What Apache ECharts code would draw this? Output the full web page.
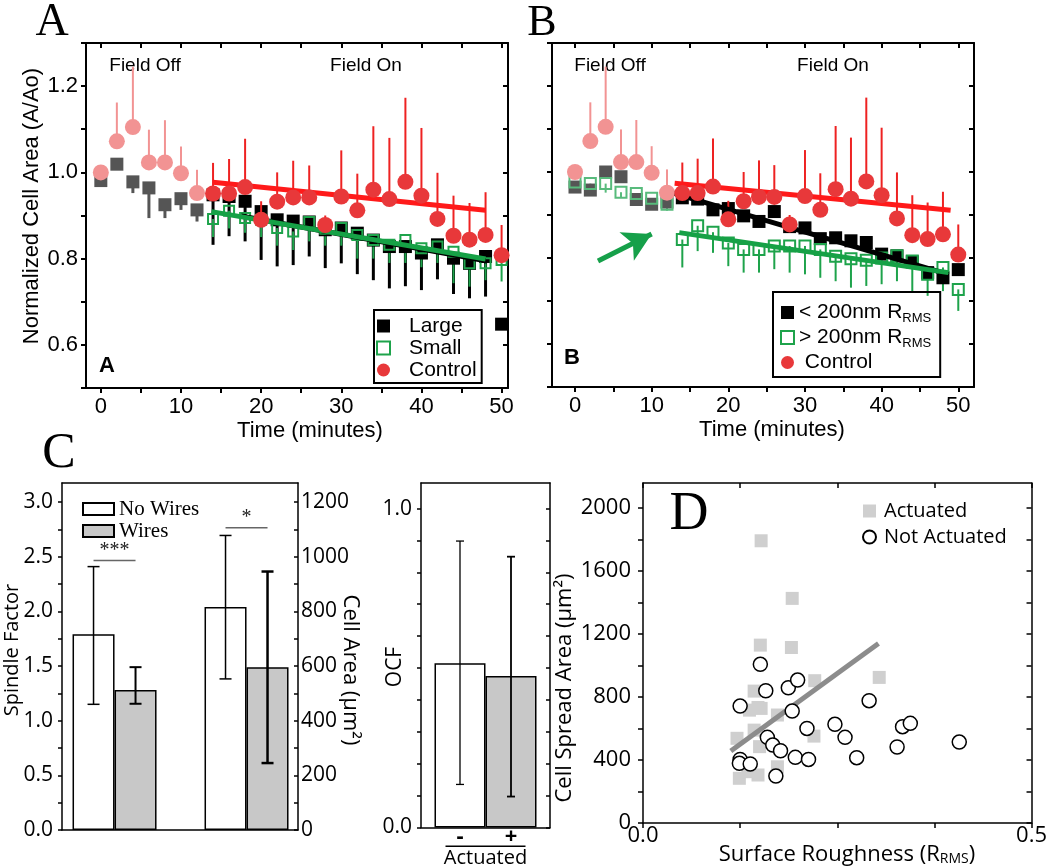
<!DOCTYPE html>
<html>
<head>
<meta charset="utf-8">
<script src="https://cdn.jsdelivr.net/npm/echarts@6/dist/echarts.min.js"></script>
<style>
  html, body { margin: 0; padding: 0; background: #fff; }
  #fig { width: 1050px; height: 868px; }
</style>
</head>
<body>
<div id="fig"></div>
<script>
// ---------- panels A / B : normalized cell area vs time ----------
const times = [0, 2, 4, 6, 8, 10, 12, 14, 16, 18, 20, 22, 24, 26, 28, 30, 32, 34, 36, 38, 40, 42, 44, 46, 48, 50];
const ctrlMean = [1.00, 1.072, 1.105, 1.023, 1.023, 0.998, 0.952, 0.951, 0.951, 0.966, 0.89, 0.932, 0.942, 0.942, 0.878, 0.944, 0.912, 0.96, 0.938, 0.978, 0.946, 0.892, 0.853, 0.844, 0.855, 0.808];
const ctrlTop = [null, 1.162, 1.245, 1.099, 1.121, 1.06, 1.006, 1.022, 1.031, 1.078, 0.933, 1.0, 1.027, 1.016, 0.90, 1.051, 0.997, 1.107, 1.08, 1.173, 1.103, 0.999, 0.946, 0.929, 0.954, 0.878];
const largeMean = [0.981, 1.019, 0.978, 0.964, 0.925, 0.939, 0.913, 0.948, 0.944, 0.933, 0.909, 0.89, 0.887, 0.885, 0.867, 0.871, 0.859, 0.843, 0.828, 0.828, 0.813, 0.832, 0.801, 0.789, 0.805, 0.648];
const largeLow = [null, null, 0.952, 0.894, 0.894, 0.913, 0.886, 0.832, 0.852, 0.84, 0.797, 0.782, 0.785, 0.805, 0.778, 0.789, 0.764, 0.75, 0.731, 0.736, 0.727, 0.752, 0.718, 0.708, 0.712, null];
const smallTimes = [14, 16, 18, 20, 22, 24, 26, 28, 30, 32, 34, 36, 38, 40, 42, 44, 46, 48, 50];
const smallMean = [0.892, 0.911, 0.894, 0.89, 0.871, 0.863, 0.885, 0.869, 0.871, 0.855, 0.843, 0.832, 0.843, 0.824, 0.828, 0.816, 0.789, 0.789, 0.797];
const smallLow = [0.85, 0.87, 0.86, 0.85, 0.83, 0.82, 0.84, 0.83, 0.83, 0.80, 0.80, 0.79, 0.79, 0.78, 0.79, 0.743, 0.735, 0.75, 0.747];
// panel B: < 200nm and > 200nm roughness
const fineMean = [0.965, 0.958, 1.0, 0.989, 0.936, 0.925, 0.93, 0.94, 0.937, 0.912, 0.915, 0.898, 0.885, 0.908, 0.873, 0.87, 0.845, 0.847, 0.84, 0.836, 0.809, 0.805, 0.791, 0.766, 0.754, 0.773];
const coarseMean = [0.977, 0.973, 0.973, 0.953, 0.95, 0.939, 0.925, 0.843, 0.875, 0.86, 0.835, 0.82, 0.82, 0.828, 0.828, 0.828, 0.82, 0.804, 0.798, 0.795, 0.80, 0.805, 0.793, 0.762, 0.778, 0.727];
const coarseLow = [0.962, 0.96, 0.952, 0.94, 0.94, 0.928, 0.91, 0.778, 0.816, 0.812, 0.781, 0.766, 0.766, 0.774, 0.766, 0.762, 0.754, 0.746, 0.731, 0.735, 0.739, 0.746, 0.723, 0.712, 0.723, 0.677];
// linear fits (start, end)
const ctrlFitA = [[14, 0.977], [48, 0.912]];
const largeFitA = [[17.5, 0.899], [48, 0.795]];
const smallFitA = [[13.8, 0.909], [48, 0.799]];
const ctrlFitB = [[13, 0.974], [49, 0.911]];
const fineFitB = [[12.6, 0.952], [48.7, 0.762]];
const coarseFitB = [[13.6, 0.859], [48.7, 0.766]];
const arrowB = [[3, 0.793], [10, 0.856]];
const timeTicks = [0, 5, 10, 15, 20, 25, 30, 35, 40, 45, 50];
const timeLabels = [0, 10, 20, 30, 40, 50];
const areaTicks = [0.5, 0.6, 0.7, 0.8, 0.9, 1.0, 1.1, 1.2, 1.3];
const areaLabels = [0.6, 0.8, 1.0, 1.2];

// ---------- panel C ----------
const groupPos = [0, 1];                     // spindle factor group, cell area group
const spindleMean = [1.79, 1.28];            // no wires, wires
const spindleErr = [[1.15, 2.41], [1.155, 1.49]];
const cellAreaMean = [816, 596];
const cellAreaErr = [[553, 1078], [245, 946]];
const sigSpindle = 2.466;
const sigArea = 1106;
const spindleTicks = [0, 0.25, 0.5, 0.75, 1, 1.25, 1.5, 1.75, 2, 2.25, 2.5, 2.75, 3];
const spindleLabels = [0, 0.5, 1, 1.5, 2, 2.5, 3];
const cellAreaTicks = [0, 100, 200, 300, 400, 500, 600, 700, 800, 900, 1000, 1100, 1200];
const cellAreaLabels = [0, 200, 400, 600, 800, 1000, 1200];
const ocfMean = [0.515, 0.475];              // actuated -, +
const ocfErr = [[0.135, 0.898], [0.097, 0.849]];
const ocfTicks = [0, 0.1, 0.2, 0.3, 0.4, 0.5, 0.6, 0.7, 0.8, 0.9, 1.0];
const ocfLabels = [0, 1];

// ---------- panel D ----------
const actuatedX = [0.152, 0.192, 0.151, 0.191, 0.304, 0.221, 0.143, 0.148, 0.137, 0.152, 0.173, 0.143, 0.121, 0.220, 0.150, 0.173, 0.124, 0.148, 0.135];
const actuatedY = [1793, 1427, 1130, 1115, 925, 904, 838, 734, 717, 728, 686, 590, 538, 552, 485, 357, 284, 305, 326];
const notActX = [0.125, 0.151, 0.158, 0.187, 0.199, 0.192, 0.211, 0.160, 0.167, 0.177, 0.125, 0.124, 0.138, 0.171, 0.196, 0.213, 0.247, 0.260, 0.275, 0.291, 0.327, 0.334, 0.344, 0.407];
const notActY = [743, 1008, 840, 859, 908, 711, 601, 544, 495, 459, 404, 379, 375, 298, 417, 404, 627, 544, 415, 777, 483, 612, 633, 514];
const fitD = [[0.113, 457], [0.303, 1141]];
const roughTicks = [0, 0.125, 0.25, 0.375, 0.5];
const roughLabels = [0, 0.5];
const spreadTicks = [0, 200, 400, 600, 800, 1000, 1200, 1400, 1600, 1800, 2000];
const spreadLabels = [0, 400, 800, 1200, 1600, 2000];

const SANS = 'Liberation Sans, Arial, sans-serif';
const OPEN = 'Open Sans, sans-serif';
const SERIF = 'Liberation Serif, Times New Roman, serif';
const FIELD_ON = 13;  // minutes; earlier points are drawn faded

const RED = '#e8383a', PINK = '#f29393', GREEN = '#1ea34b', LGREEN = '#58bb7c', GREY = '#555555';

function valAxis(grid, pos, min, max, ticks, o) {
  o = o || {};
  return {
    gridIndex: grid, type: 'value', position: pos, min: min, max: max,
    splitLine: { show: false },
    axisLine: { show: true, onZero: false, lineStyle: { color: '#000', width: o.lw || 2 } },
    axisTick: ticks ? { show: true, inside: !!o.inside, length: o.tl || 5, customValues: ticks, lineStyle: { color: '#000', width: o.lw || 2 } } : { show: false },
    axisLabel: o.labels ? {
      show: true, customValues: o.labels, formatter: o.fmt, color: '#000',
      fontFamily: o.font, fontSize: o.size, margin: o.margin
    } : { show: false }
  };
}
function catAxis(grid, pos, data, label) {
  return {
    gridIndex: grid, type: 'category', position: pos, data: data,
    axisLine: { show: true, onZero: false, lineStyle: { color: '#000', width: 1.5 } },
    axisTick: { show: false },
    axisLabel: label || { show: false },
    splitLine: { show: false }
  };
}
const fix1 = v => v.toFixed(1);
const plain = v => String(v);

function points(xs, ys, offStyle) {
  return xs.map((t, i) => {
    const d = { value: [t, ys[i]] };
    if (t < FIELD_ON && offStyle) d.itemStyle = offStyle;
    return d;
  });
}
function errData(xs, ys, ends) {
  return xs.map((t, i) => [t, ys[i], ends[i] == null ? '-' : ends[i]]);
}
function errRender(onColor, offColor, width) {
  return function (params, api) {
    const t = api.value(0), y0 = api.value(1), y1 = api.value(2);
    if (isNaN(y1)) return null;
    const a = api.coord([t, y0]), b = api.coord([t, y1]);
    return { type: 'line', shape: { x1: a[0], y1: a[1], x2: b[0], y2: b[1] },
      style: { stroke: t < FIELD_ON ? offColor : onColor, lineWidth: width } };
  };
}
function capRender(offset, cap, width) {
  return function (params, api) {
    const c = api.value(0);
    const lo = api.coord([c, api.value(1)]), hi = api.coord([c, api.value(2)]);
    const x = lo[0] + offset, st = { stroke: '#000', lineWidth: width };
    return { type: 'group', children: [
      { type: 'line', shape: { x1: x, y1: lo[1], x2: x, y2: hi[1] }, style: st },
      { type: 'line', shape: { x1: x - cap, y1: lo[1], x2: x + cap, y2: lo[1] }, style: st },
      { type: 'line', shape: { x1: x - cap, y1: hi[1], x2: x + cap, y2: hi[1] }, style: st }
    ] };
  };
}
function sigRender(half, text, gap) {
  return function (params, api) {
    const p = api.coord([api.value(0), api.value(1)]);
    return { type: 'group', children: [
      { type: 'line', shape: { x1: p[0] - half, y1: p[1], x2: p[0] + half, y2: p[1] }, style: { stroke: '#666', lineWidth: 1.5 } },
      { type: 'text', x: p[0], y: p[1] - gap, style: { text: text, fill: '#222', fontSize: 20, fontFamily: SERIF, align: 'center', verticalAlign: 'middle' } }
    ] };
  };
}
function fitLine(name, xi, yi, data, color, width) {
  return { type: 'line', name: name, xAxisIndex: xi, yAxisIndex: yi, data: data, symbol: 'none',
    lineStyle: { color: color, width: width }, itemStyle: { color: color }, z: 3 };
}

function txt(x, y, text, size, family, extra) {
  extra = extra || {};
  return {
    type: 'text', x: x, y: y, rotation: extra.rot || 0,
    style: { text: text, fill: '#000', fontSize: size, fontFamily: family, fontWeight: extra.weight || 'normal',
      align: 'center', verticalAlign: 'middle', rich: extra.rich }
  };
}

const chart = echarts.init(document.getElementById('fig'));

const series = [];
// ---- panel A
series.push({ type: 'custom', name: 'errLargeA', xAxisIndex: 0, yAxisIndex: 0, renderItem: errRender('#000', GREY, 3), data: errData(times, largeMean, largeLow), z: 2 });
series.push({ type: 'scatter', name: 'Large', xAxisIndex: 0, yAxisIndex: 0, symbol: 'rect', symbolSize: 13,
  itemStyle: { color: '#000', opacity: 1 }, data: points(times, largeMean, { color: GREY }), z: 2 });
series.push({ type: 'custom', name: 'errSmallA', xAxisIndex: 0, yAxisIndex: 0, renderItem: errRender(GREEN, LGREEN, 2), data: errData(smallTimes, smallMean, smallLow), z: 2 });
series.push({ type: 'scatter', name: 'Small', xAxisIndex: 0, yAxisIndex: 0, symbol: 'rect', symbolSize: 10,
  itemStyle: { color: 'rgba(255,255,255,0)', borderColor: GREEN, borderWidth: 2, opacity: 1 }, data: points(smallTimes, smallMean), z: 2 });
series.push(fitLine('fitLargeA', 0, 0, largeFitA, '#000', 5));
series.push(fitLine('fitSmallA', 0, 0, smallFitA, '#16a146', 5));
series.push({ type: 'custom', name: 'errCtrlA', xAxisIndex: 0, yAxisIndex: 0, renderItem: errRender('#ee2222', PINK, 2), data: errData(times, ctrlMean, ctrlTop), z: 3 });
series.push(fitLine('fitCtrlA', 0, 0, ctrlFitA, '#ff1a1a', 5));
series.push({ type: 'scatter', name: 'Control', xAxisIndex: 0, yAxisIndex: 0, symbol: 'circle', symbolSize: 16,
  itemStyle: { color: RED, opacity: 1 }, data: points(times, ctrlMean, { color: PINK }), z: 3 });

// ---- panel B
series.push({ type: 'scatter', name: '< 200nm RRMS', xAxisIndex: 2, yAxisIndex: 2, symbol: 'rect', symbolSize: 13,
  itemStyle: { color: '#000', opacity: 1 }, data: points(times, fineMean, { color: GREY }), z: 2 });
series.push({ type: 'custom', name: 'errCoarseB', xAxisIndex: 2, yAxisIndex: 2, renderItem: errRender(GREEN, LGREEN, 2), data: errData(times, coarseMean, coarseLow), z: 2 });
series.push({ type: 'scatter', name: '> 200nm RRMS', xAxisIndex: 2, yAxisIndex: 2, symbol: 'rect', symbolSize: 11,
  itemStyle: { color: 'rgba(255,255,255,0)', borderColor: GREEN, borderWidth: 2, opacity: 1 },
  data: points(times, coarseMean, { color: 'rgba(255,255,255,0)', borderColor: LGREEN }), z: 2,
  markLine: { silent: true, symbol: ['none', 'arrow'], symbolSize: [24, 28], label: { show: false },
    lineStyle: { color: '#16a04a', width: 5, type: 'solid' },
    data: [[{ coord: arrowB[0] }, { coord: arrowB[1] }]] } });
series.push(fitLine('fitFineB', 2, 2, fineFitB, '#000', 5));
series.push(fitLine('fitCoarseB', 2, 2, coarseFitB, '#16a146', 5));
series.push({ type: 'custom', name: 'errCtrlB', xAxisIndex: 2, yAxisIndex: 2, renderItem: errRender('#ee2222', PINK, 2), data: errData(times, ctrlMean, ctrlTop), z: 3 });
series.push(fitLine('fitCtrlB', 2, 2, ctrlFitB, '#ff1a1a', 5));
series.push({ type: 'scatter', name: 'Control', xAxisIndex: 2, yAxisIndex: 2, symbol: 'circle', symbolSize: 16,
  itemStyle: { color: RED, opacity: 1 }, data: points(times, ctrlMean, { color: PINK }), z: 3 });

// ---- panel C (spindle factor / cell area); bars of one colour share a stack slot
const barWhite = { color: '#fff', borderColor: '#000', borderWidth: 1.5 };
const barGrey = { color: '#c8c8c8', borderColor: '#000', borderWidth: 1.5 };
series.push({ type: 'bar', name: 'No Wires', xAxisIndex: 4, yAxisIndex: 4, stack: 'nw', barWidth: 42, barGap: '0%', itemStyle: barWhite, data: [[groupPos[0], spindleMean[0]]] });
series.push({ type: 'bar', name: 'Wires', xAxisIndex: 4, yAxisIndex: 4, stack: 'w', barWidth: 42, barGap: '0%', itemStyle: barGrey, data: [[groupPos[0], spindleMean[1]]] });
series.push({ type: 'bar', name: 'No Wires', xAxisIndex: 4, yAxisIndex: 5, stack: 'nw', barWidth: 42, barGap: '0%', itemStyle: barWhite, data: [[groupPos[1], cellAreaMean[0]]] });
series.push({ type: 'bar', name: 'Wires', xAxisIndex: 4, yAxisIndex: 5, stack: 'w', barWidth: 42, barGap: '0%', itemStyle: barGrey, data: [[groupPos[1], cellAreaMean[1]]] });
series.push({ type: 'custom', xAxisIndex: 4, yAxisIndex: 4, renderItem: capRender(-21, 6, 1.5), data: [[groupPos[0], spindleErr[0][0], spindleErr[0][1]]], z: 4 });
series.push({ type: 'custom', xAxisIndex: 4, yAxisIndex: 4, renderItem: capRender(21, 6, 2), data: [[groupPos[0], spindleErr[1][0], spindleErr[1][1]]], z: 4 });
series.push({ type: 'custom', xAxisIndex: 4, yAxisIndex: 5, renderItem: capRender(-21, 6, 1.5), data: [[groupPos[1], cellAreaErr[0][0], cellAreaErr[0][1]]], z: 4 });
series.push({ type: 'custom', xAxisIndex: 4, yAxisIndex: 5, renderItem: capRender(21, 6, 2.5), data: [[groupPos[1], cellAreaErr[1][0], cellAreaErr[1][1]]], z: 4 });
series.push({ type: 'custom', xAxisIndex: 4, yAxisIndex: 4, renderItem: sigRender(21, '***', 10), data: [[groupPos[0], sigSpindle]], z: 4 });
series.push({ type: 'custom', xAxisIndex: 4, yAxisIndex: 5, renderItem: sigRender(21, '*', 10), data: [[groupPos[1], sigArea]], z: 4 });

// ---- panel C (OCF)
const pm = { show: true, position: 'bottom', distance: 1, color: '#000', fontSize: 22, fontWeight: 'bold', fontFamily: OPEN, lineHeight: 16 };
series.push({ type: 'bar', name: 'OCF -', xAxisIndex: 6, yAxisIndex: 6, barWidth: 51, barGap: '0%', itemStyle: barWhite,
  label: Object.assign({ formatter: '-' }, pm), data: [ocfMean[0]] });
series.push({ type: 'bar', name: 'OCF +', xAxisIndex: 6, yAxisIndex: 6, barWidth: 51, barGap: '0%', itemStyle: barGrey,
  label: Object.assign({ formatter: '+' }, pm), data: [ocfMean[1]] });
series.push({ type: 'custom', xAxisIndex: 6, yAxisIndex: 6, renderItem: capRender(-25.5, 4, 1.3), data: [[0, ocfErr[0][0], ocfErr[0][1]]], z: 4 });
series.push({ type: 'custom', xAxisIndex: 6, yAxisIndex: 6, renderItem: capRender(25.5, 4, 1.8), data: [[0, ocfErr[1][0], ocfErr[1][1]]], z: 4 });

// ---- panel D
series.push({ type: 'scatter', name: 'Actuated', xAxisIndex: 8, yAxisIndex: 8, symbol: 'rect', symbolSize: 13,
  itemStyle: { color: '#cfcfcf', opacity: 1 }, data: actuatedX.map((x, i) => [x, actuatedY[i]]), z: 2 });
series.push(fitLine('fitD', 8, 8, fitD, '#8c8c8c', 5));
series.push({ type: 'scatter', name: 'Not Actuated', xAxisIndex: 8, yAxisIndex: 8, symbol: 'circle', symbolSize: 14,
  itemStyle: { color: '#fff', borderColor: '#000', borderWidth: 1.5, opacity: 1 }, data: notActX.map((x, i) => [x, notActY[i]]), z: 4 });

const subRich = { s: { fontSize: 13, fontFamily: SANS, lineHeight: 13, verticalAlign: 'bottom', color: '#000' } };

chart.setOption({
  animation: false,
  backgroundColor: '#fff',
  grid: [
    { left: 86, top: 43, width: 422, height: 345 },
    { left: 552, top: 43, width: 422, height: 344 },
    { left: 62, top: 483, width: 236, height: 347 },
    { left: 421, top: 483, width: 129, height: 345 },
    { left: 643, top: 483, width: 391, height: 340 }
  ],
  xAxis: [
    valAxis(0, 'bottom', -1.85, 50.8, timeTicks, { labels: timeLabels, fmt: plain, font: SANS, size: 22, margin: 8 }),
    valAxis(0, 'top', -1.85, 50.8, timeTicks, { inside: true }),
    valAxis(1, 'bottom', -3, 52.05, timeTicks, { labels: timeLabels, fmt: plain, font: SANS, size: 22, margin: 8 }),
    valAxis(1, 'top', -3, 52.05, timeTicks, { inside: true }),
    valAxis(2, 'bottom', -0.398, 1.39, null, { lw: 1.5 }),
    valAxis(2, 'top', -0.398, 1.39, null, { lw: 1.5 }),
    catAxis(3, 'bottom', ['Actuated'], {
      show: true, margin: 18, color: '#000', fontFamily: OPEN, fontSize: 20,
      formatter: v => '{ln|}\n{t|' + v + '}',
      rich: { ln: { width: 80, height: 1.5, lineHeight: 1.5, backgroundColor: '#000' }, t: { fontSize: 20, fontFamily: OPEN, lineHeight: 22, color: '#000' } }
    }),
    catAxis(3, 'top', ['Actuated']),
    valAxis(4, 'bottom', 0, 0.5, roughTicks, { labels: roughLabels, fmt: fix1, font: OPEN, size: 22, margin: 2, lw: 1.5 }),
    valAxis(4, 'top', 0, 0.5, roughTicks, { inside: true, lw: 1.5 })
  ],
  yAxis: [
    valAxis(0, 'left', 0.5, 1.3, areaTicks, { labels: areaLabels, fmt: fix1, font: SANS, size: 22, margin: 8 }),
    valAxis(0, 'right', 0.5, 1.3, areaTicks, { inside: true }),
    valAxis(1, 'left', 0.5, 1.3, areaTicks, {}),
    valAxis(1, 'right', 0.5, 1.3, areaTicks, { inside: true }),
    valAxis(2, 'left', 0, 3.175, spindleTicks, { labels: spindleLabels, fmt: fix1, font: OPEN, size: 21, margin: 9, lw: 1.5, tl: 4 }),
    valAxis(2, 'right', 0, 1270, cellAreaTicks, { labels: cellAreaLabels, fmt: plain, font: OPEN, size: 21, margin: 3, lw: 1.5, tl: 4, inside: true }),
    valAxis(3, 'left', 0, 1.08, ocfTicks, { labels: ocfLabels, fmt: fix1, font: OPEN, size: 21, margin: 9, lw: 1.5, tl: 4 }),
    valAxis(3, 'right', 0, 1.08, ocfTicks, { inside: true, lw: 1.5, tl: 4 }),
    valAxis(4, 'left', 0, 2160, spreadTicks, { labels: spreadLabels, fmt: plain, font: OPEN, size: 22, margin: 12, lw: 1.5 }),
    valAxis(4, 'right', 0, 2160, spreadTicks, { inside: true, lw: 1.5 })
  ],
  legend: [
    { data: ['Large', 'Small', 'Control'], left: 374, top: 310, orient: 'vertical', selectedMode: false,
      borderColor: '#000', borderWidth: 2, padding: [5, 5, 2, 2], itemGap: 0, itemWidth: 13, itemHeight: 13,
      textStyle: { fontFamily: SANS, fontSize: 21, lineHeight: 22, color: '#000', padding: [0, 0, 0, 14] } },
    { data: ['< 200nm RRMS', '> 200nm RRMS', 'Control'], left: 773, top: 292, orient: 'vertical', selectedMode: false,
      borderColor: '#000', borderWidth: 2, padding: [8, 9, 2, 7], itemGap: 0, itemWidth: 13, itemHeight: 13,
      formatter: n => n === 'Control' ? ' Control' : n.replace('RMS', '{s|RMS}'),
      textStyle: { fontFamily: SANS, fontSize: 21, lineHeight: 25, color: '#000', rich: subRich } },
    { data: [{ name: 'No Wires', icon: 'rect' }, { name: 'Wires', icon: 'rect' }], left: 82, top: 498, orient: 'vertical',
      selectedMode: false, padding: 0, itemGap: 0, itemWidth: 31, itemHeight: 12,
      textStyle: { fontFamily: SERIF, fontSize: 21, lineHeight: 22, color: '#000' } },
    { data: ['Actuated', 'Not Actuated'], left: 862, top: 498, orient: 'vertical', selectedMode: false,
      padding: 0, itemGap: 0, itemWidth: 13, itemHeight: 13,
      textStyle: { fontFamily: OPEN, fontSize: 20, lineHeight: 26, color: '#000', padding: [0, 0, 0, 3] } }
  ],
  graphic: [
    txt(52, 23, 'A', 46, SERIF),
    txt(542, 23, 'B', 44, SERIF),
    txt(59, 454, 'C', 50, SERIF),
    txt(689, 515, 'D', 54, SERIF),
    txt(107, 366, 'A', 22, SANS, { weight: 'bold' }),
    txt(572, 358, 'B', 22, SANS, { weight: 'bold' }),
    txt(145, 66, 'Field Off', 19, SANS),
    txt(366, 66, 'Field On', 19, SANS),
    txt(610, 66, 'Field Off', 19, SANS),
    txt(833, 66, 'Field On', 19, SANS),
    txt(32, 206, 'Normalized Cell Area (A/Ao)', 22, SANS, { rot: Math.PI / 2 }),
    txt(310, 431, 'Time (minutes)', 22, SANS),
    txt(772, 430, 'Time (minutes)', 22, SANS),
    txt(12, 650, 'Spindle Factor', 20, OPEN, { rot: Math.PI / 2 }),
    txt(350, 670, 'Cell Area (\u00b5m\u00b2)', 22, OPEN, { rot: -Math.PI / 2 }),
    txt(395, 667, 'OCF', 21, OPEN, { rot: Math.PI / 2 }),
    txt(565, 688, 'Cell Spread Area (\u00b5m\u00b2)', 22, OPEN, { rot: Math.PI / 2 }),
    txt(847, 855, 'Surface Roughness (R{s|RMS})', 22, OPEN,
      { rich: { s: { fontSize: 14, fontFamily: OPEN, lineHeight: 14, verticalAlign: 'bottom', fill: '#000' } } })
  ],
  series: series
});
</script>
</body>
</html>
